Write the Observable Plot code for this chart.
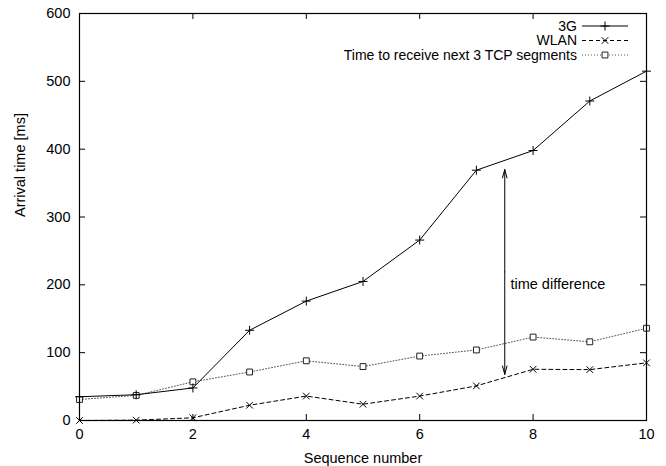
<!DOCTYPE html>
<html>
<head>
<meta charset="utf-8">
<script src="https://cdn.jsdelivr.net/npm/d3@7"></script>
<script src="https://cdn.jsdelivr.net/npm/@observablehq/plot@0.6"></script>
<style>
  html, body { margin: 0; padding: 0; background: white; }
</style>
</head>
<body>
<div id="chart"></div>
<script>
const seq = [0, 1, 2, 3, 4, 5, 6, 7, 8, 9, 10];
const g3 = [35, 38, 48, 133, 176, 205, 266, 369, 398, 471, 515];
const wlan = [0, 0.5, 4, 22.5, 36, 24, 36, 51, 75.5, 75, 85];
const tcp = [31, 37, 57, 71.5, 88, 79.5, 95, 104, 123, 116, 136];
const xTicks = [0, 2, 4, 6, 8, 10];
const yTicks = [0, 100, 200, 300, 400, 500, 600];
const seriesNames = ["3G", "WLAN", "Time to receive next 3 TCP segments"];
const arrowX = 7.5, arrowTop = 370, arrowBottom = 68;
const noteX = 7.6, noteY = 200, noteText = "time difference";

const rows = (vals) => seq.map((s, i) => ({x: s, y: vals[i]}));
const d3g = rows(g3), dwl = rows(wlan), dtcp = rows(tcp);
const mid = (arrowTop + arrowBottom) / 2;

const font = "'Liberation Sans', Arial, Helvetica, sans-serif";
const fs = 14.5;

const chart = Plot.plot({
  width: 666, height: 466,
  marginLeft: 79, marginRight: 20, marginTop: 13, marginBottom: 46,
  style: {fontFamily: font, fontSize: fs + "px", background: "white", color: "black"},
  x: {domain: [0, 10]},
  y: {domain: [0, 600]},
  marks: [
    Plot.axisX({ticks: xTicks, tickSize: 0, tickPadding: 8, fontSize: fs, label: null, tickFormat: d => d}),
    Plot.axisY({ticks: yTicks, tickSize: 0, tickPadding: 9, fontSize: fs, label: null, tickFormat: d => d}),
    Plot.ruleX(xTicks, {x: d => d, insetTop: 401, stroke: "black"}),
    Plot.ruleX(xTicks, {x: d => d, insetBottom: 401, stroke: "black"}),
    Plot.ruleY(yTicks, {y: d => d, insetRight: 561, stroke: "black"}),
    Plot.ruleY(yTicks, {y: d => d, insetLeft: 561, stroke: "black"}),
    Plot.line(dtcp, {x: "x", y: "y", stroke: "#555", strokeWidth: 1, strokeDasharray: "1,2"}),
    Plot.dot(dtcp, {x: "x", y: "y", symbol: "square", r: 3.3, stroke: "#222", fill: "white", strokeWidth: 1}),
    Plot.line(dwl, {x: "x", y: "y", stroke: "black", strokeWidth: 1, strokeDasharray: "4,3"}),
    Plot.dot(dwl, {x: "x", y: "y", symbol: "times", r: 3.1, stroke: "black", strokeWidth: 1}),
    Plot.line(d3g, {x: "x", y: "y", stroke: "black", strokeWidth: 1}),
    Plot.dot(d3g, {x: "x", y: "y", symbol: "plus", r: 3, stroke: "black", strokeWidth: 1}),
    Plot.arrow([{y1: mid, y2: arrowTop}, {y1: mid, y2: arrowBottom}], {
      x1: () => arrowX, x2: () => arrowX, y1: "y1", y2: "y2",
      stroke: "black", strokeWidth: 1, headLength: 13, headAngle: 30
    }),
    Plot.text([noteText], {x: () => noteX, y: () => noteY, text: d => d, textAnchor: "start", fontSize: fs, fill: "black"}),
    Plot.text(["Sequence number"], {frameAnchor: "bottom", text: d => d, dy: 38, lineAnchor: "middle", fontSize: fs, fill: "black"}),
    Plot.text(["Arrival time [ms]"], {frameAnchor: "left", text: d => d, rotate: -90, dx: -59, lineAnchor: "middle", fontSize: fs, fill: "black"}),
    Plot.frame({stroke: "black", strokeWidth: 1.2})
  ]
});

document.getElementById("chart").appendChild(chart);

// Legend (gnuplot style, inside top-right)
const svg = d3.select(chart);
const lg = svg.append("g").attr("font-family", font).attr("font-size", 14);
const rowY = [26, 40.5, 55];
const styles = [
  {dash: null, stroke: "black", sym: d3.symbolPlus, size: Math.PI * 9},
  {dash: "4,3", stroke: "black", sym: d3.symbolTimes, size: Math.PI * 9.6},
  {dash: "1,2", stroke: "#555", sym: d3.symbolSquare, size: Math.PI * 10.9}
];
seriesNames.forEach((name, i) => {
  const y = rowY[i];
  lg.append("text").attr("x", 577).attr("y", y).attr("text-anchor", "end")
    .attr("dy", "0.35em").attr("fill", "black").text(name);
  const ln = lg.append("line").attr("x1", 582).attr("x2", 628).attr("y1", y).attr("y2", y)
    .attr("stroke", styles[i].stroke).attr("stroke-width", 1);
  if (styles[i].dash) ln.attr("stroke-dasharray", styles[i].dash);
  lg.append("path").attr("transform", `translate(605,${y})`)
    .attr("d", d3.symbol(styles[i].sym, styles[i].size)())
    .attr("fill", i === 2 ? "white" : "none").attr("stroke", i === 2 ? "#222" : "black").attr("stroke-width", 1);
});
</script>
</body>
</html>
